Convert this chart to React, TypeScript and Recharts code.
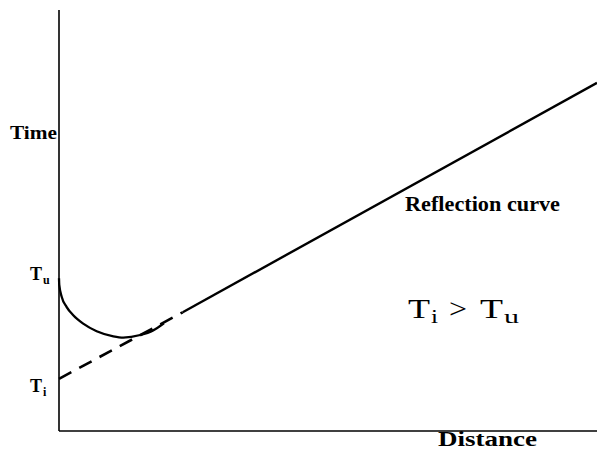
import { LineChart, Line, XAxis, YAxis } from 'recharts';

// distance (d) and time (t) on a 0..100 scale
const curveDistance = [0, 0.05, 0.5, 1.4, 2.65, 4.5, 7.0, 10.1, 11.95, 15.1, 17.5, 19.5];
const curveTime = [36.3, 34.7, 31.9, 29.5, 27.5, 25.5, 23.7, 22.5, 22.2, 22.8, 23.9, 25.6];

const dashedDistance = [0, 23];
const dashedTime = [12.4, 28.2];

const solidDistance = [23, 100];
const solidTime = [28.2, 82.7];

const toPoints = (ds: number[], ts: number[]) => ds.map((d, i) => ({ d, t: ts[i] }));

const curveData = toPoints(curveDistance, curveTime);
const dashedData = toPoints(dashedDistance, dashedTime);
const solidData = toPoints(solidDistance, solidTime);

const serif = '"Liberation Serif", "Times New Roman", serif';

export default function App() {
  return (
    <div style={{ position: 'absolute', left: 0, top: 0, width: 597, height: 450, background: '#fff' }}>
      <LineChart width={597} height={450} margin={{ top: 10, right: 0, left: 0, bottom: 0 }}>
        <XAxis
          type="number"
          dataKey="d"
          domain={[0, 100]}
          height={19}
          tick={false}
          tickLine={false}
          axisLine={{ stroke: '#000', strokeWidth: 1.6 }}
        />
        <YAxis
          type="number"
          dataKey="t"
          domain={[0, 100]}
          width={59}
          tick={false}
          tickLine={false}
          axisLine={{ stroke: '#000', strokeWidth: 1.6 }}
        />
        <Line
          data={dashedData}
          dataKey="t"
          type="linear"
          stroke="#000"
          strokeWidth={2.6}
          strokeDasharray="14 9"
          dot={false}
          isAnimationActive={false}
        />
        <Line
          data={solidData}
          dataKey="t"
          type="linear"
          stroke="#000"
          strokeWidth={2.4}
          dot={false}
          isAnimationActive={false}
        />
        <Line
          data={curveData}
          dataKey="t"
          type="monotone"
          stroke="#000"
          strokeWidth={2.3}
          dot={false}
          isAnimationActive={false}
        />
      </LineChart>
      <svg
        width={597}
        height={450}
        style={{ position: 'absolute', left: 0, top: 0, pointerEvents: 'none' }}
        fontFamily={serif}
        fill="#000"
      >
        <text x={10} y={139} fontSize={19} fontWeight="bold" textLength={47} lengthAdjust="spacingAndGlyphs">
          Time
        </text>
        <text x={30} y={280} fontSize={18} fontWeight="bold">T</text>
        <text x={43} y={284} fontSize={12} fontWeight="bold">u</text>
        <text x={30} y={392} fontSize={18} fontWeight="bold">T</text>
        <text x={43} y={396} fontSize={12} fontWeight="bold">i</text>
        <text x={405} y={211} fontSize={20} fontWeight="bold" textLength={155} lengthAdjust="spacingAndGlyphs">
          Reflection curve
        </text>
        <text x={408} y={318} fontSize={28} textLength={22} lengthAdjust="spacingAndGlyphs">T</text>
        <text x={431} y={323} fontSize={18} textLength={7} lengthAdjust="spacingAndGlyphs">i</text>
        <text x={449} y={318} fontSize={28} textLength={18} lengthAdjust="spacingAndGlyphs">&gt;</text>
        <text x={480} y={318} fontSize={28} textLength={23} lengthAdjust="spacingAndGlyphs">T</text>
        <text x={504} y={323} fontSize={18} textLength={15} lengthAdjust="spacingAndGlyphs">u</text>
        <text x={438} y={446} fontSize={22} fontWeight="bold" textLength={99} lengthAdjust="spacingAndGlyphs">
          Distance
        </text>
      </svg>
    </div>
  );
}
